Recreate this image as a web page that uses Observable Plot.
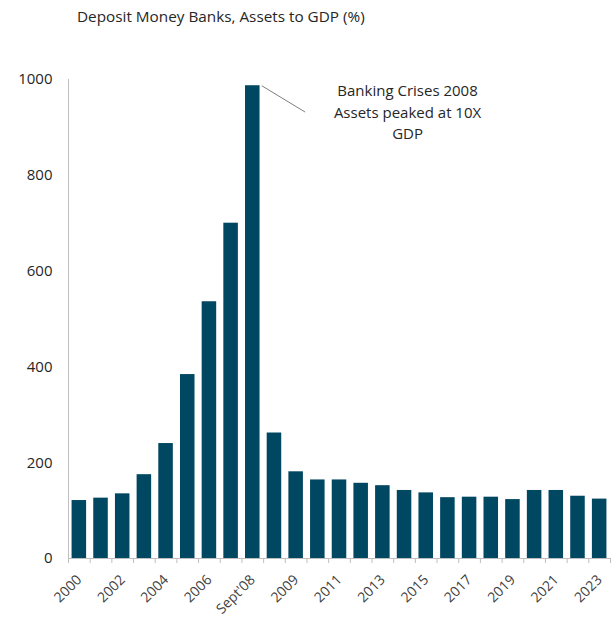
<!DOCTYPE html>
<html>
<head>
<meta charset="utf-8">
<script src="https://cdn.jsdelivr.net/npm/d3@7"></script>
<script src="https://cdn.jsdelivr.net/npm/@observablehq/plot@0.6"></script>
<style>
  html, body { margin: 0; padding: 0; background: #fff; }
  #title { height: 40px; box-sizing: border-box; padding: 6px 0 0 77px; font: 15.3px "Open Sans", sans-serif; color: #262626; }
  #chart svg { display: block; }
</style>
</head>
<body>
<div id="title">Deposit Money Banks, Assets to GDP (%)</div>
<div id="chart"></div>
<script>
const categories = ["2000","2001","2002","2003","2004","2005","2006","2007","Sept'08","2008",
  "2009","2010","2011","2012","2013","2014","2015","2016","2017","2018","2019","2020","2021","2022","2023"];
const values = [121,126,135,175,240,384,536,700,987,262,181,164,164,157,152,142,137,127,128,128,123,142,142,130,124];
const xLabels = ["2000","2002","2004","2006","Sept'08","2009","2011","2013","2015","2017","2019","2021","2023"];
const yTicks = [0,200,400,600,800,1000];
const annotationText = "Banking Crises 2008\nAssets peaked at 10X\nGDP";
const annotationAt = {x: "2014", y: 935};
const leaderFrom = "Sept'08";
const leaderTo = {x: "2009", y: 932};

const data = categories.map((c, i) => ({cat: c, value: values[i]}));
const W = 613, H = 579, ml = 68, mr = 3, mt = 39, mb = 61;
const step = (W - ml - mr) / categories.length;
const labelSet = new Set(xLabels);
const grey = "#bfbfbf";
const font = "'Open Sans', sans-serif";

const plot = Plot.plot({
  width: W, height: H,
  marginLeft: ml, marginRight: mr, marginTop: mt, marginBottom: mb,
  style: {fontFamily: font, color: "#404040", background: "#fff"},
  x: {type: "band", domain: categories, paddingInner: 0.33, paddingOuter: 0.165, round: false},
  y: {domain: [0, 1000]},
  marks: [
    Plot.barY(data, {x: "cat", y: "value", fill: "#004761"}),
    Plot.ruleY([0], {stroke: grey}),
    Plot.ruleX([categories[0]], {y1: 0, y2: 1000, dx: -step / 2, stroke: grey}),
    Plot.axisX({ticks: categories, tickSize: 5, tickFormat: () => "", dx: -step / 2, stroke: grey}),
    Plot.axisX({ticks: [categories[categories.length - 1]], tickSize: 5, tickFormat: () => "", dx: step / 2, stroke: grey}),
    Plot.axisX({ticks: categories, tickSize: 0, tickPadding: 19, tickRotate: -45,
      tickFormat: d => labelSet.has(d) ? d : "", fontSize: 14, fill: "#404040", label: null}),
    Plot.axisY({ticks: yTicks, tickSize: 0, tickPadding: 16, fontSize: 15, fill: "#262626",
      tickFormat: d3.format("d"), label: null}),
    Plot.link([leaderTo], {x1: () => leaderFrom, y1: () => values[categories.indexOf(leaderFrom)],
      x2: "x", y2: "y", dx: 9, stroke: "#7f7f7f", strokeWidth: 1}),
    Plot.text([annotationAt], {x: "x", y: "y", text: () => annotationText, dx: 3,
      fontSize: 15, lineHeight: 1.43, fill: "#262626", textAnchor: "middle"})
  ]
});
document.getElementById("chart").appendChild(plot);
</script>
</body>
</html>
